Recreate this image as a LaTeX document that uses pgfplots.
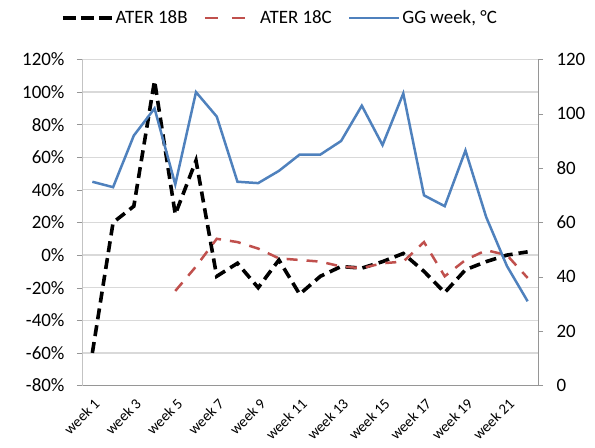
\documentclass[border=0pt]{standalone}
\usepackage{pgfplots}
\pgfplotsset{compat=1.18}
\usepackage{pgfplotstable}
\usepackage{fontspec}
\setmainfont{Carlito}

\definecolor{gridgray}{RGB}{217,217,217}
\definecolor{axisgray}{RGB}{150,150,150}
\definecolor{lightaxis}{RGB}{195,195,195}
\definecolor{redC}{RGB}{192,80,77}
\definecolor{blueG}{RGB}{79,129,189}

% week, ATER 18B (%), ATER 18C (%), GG week (degC)
\pgfplotstableread{
week B C G
1 -60 nan 75
2 20 nan 73
3 30 nan 92
4 107 nan 102
5 25 -22 74
6 58 -7 108
7 -13 10 99
8 -5 8 75
9 -20 4 74.5
10 -3 -2 79
11 -24 -3 85
12 -13 -4 85
13 -7 -7 90
14 -8 -8 103
15 -4 -5 88.5
16 1 -4 107.5
17 -10 8 70
18 -23 -13 66
19 -9 -3 86.5
20 -4 3 62
21 0 0 44
22 2 -14 31
}\weekdata

\pgfplotsset{
  base/.style={
    scale only axis, width=456bp, height=326bp,
    xmin=0.5, xmax=22.5,
    tick align=outside,
    major tick length=5bp,
    minor tick length=5bp,
    every tick/.style={axisgray},
    axis line style={axisgray},
    tick label style={font=\fontsize{19}{21}\selectfont},
    /pgf/number format/assume math mode=true,
  },
  legB/.style={legend image code/.code={\draw[black, line width=3.6bp, dash pattern=on 13bp off 5bp] (0bp,0bp) -- (49bp,0bp);}},
  legC/.style={legend image code/.code={\draw[redC, line width=2.5bp, dash pattern=on 13bp off 14bp] (0bp,0bp) -- (40bp,0bp); \path (52bp,0bp);}},
  legG/.style={legend image code/.code={\draw[blueG, line width=2.5bp] (0bp,0bp) -- (50bp,0bp);}},
}

\begin{document}
\begin{tikzpicture}
\begin{axis}[base, name=ax,
    ymin=-80, ymax=120,
    ytick={-80,-60,...,120},
    yticklabel={\pgfmathprintnumber{\tick}\%},
    yticklabel style={xshift=-9bp},
    axis x line*=bottom, axis y line*=left,
    y axis line style={lightaxis},
    ymajorgrids, grid style={gridgray, line width=1.2bp},
    xtick={1,3,...,21},
    xticklabels={week 1,week 3,week 5,week 7,week 9,week 11,week 13,week 15,week 17,week 19,week 21},
    x tick style={draw=none},
    minor xtick={0.5,1.5,...,22.5},
    minor x tick style={axisgray},
    xticklabel style={rotate=45, anchor=east, font=\fontsize{15}{17}\selectfont, yshift=-11bp, xshift=-1bp},
    legend columns=3,
    legend style={at={(0.434,1.128)}, anchor=center, draw=none, fill=none,
      font=\fontsize{19}{21}\selectfont,
      /tikz/every even column/.append style={column sep=14bp}},
  ]
  \addplot[black, line width=3.6bp, dash pattern=on 11bp off 6bp, legB]
    table[x=week, y=B] {\weekdata};
  \addlegendentry{ATER 18B}
  \addplot[redC, line width=2.5bp, dash pattern=on 11bp off 9bp, legC]
    table[x=week, y=C] {\weekdata};
  \addlegendentry{ATER 18C}
  \addlegendimage{legG}
  \addlegendentry{GG week, °C}
\end{axis}
\begin{axis}[base,
    ymin=0, ymax=120,
    ytick={0,20,...,120},
    yticklabel style={xshift=10bp},
    axis y line*=right, axis x line=none,
  ]
  \addplot[blueG, line width=2.5bp] table[x=week, y=G] {\weekdata};
\end{axis}
\pgfresetboundingbox
\path[use as bounding box] ([xshift=-82bp,yshift=-62.3bp]ax.south west) rectangle ([xshift=57bp,yshift=59.5bp]ax.north east);
\end{tikzpicture}
\end{document}
